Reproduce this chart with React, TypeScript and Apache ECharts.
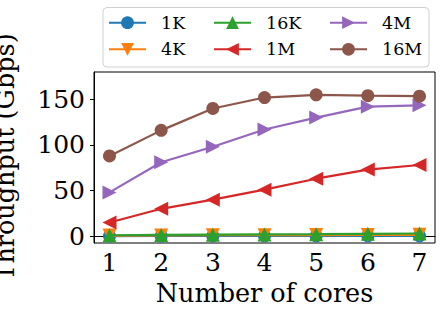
import React, { useEffect, useRef } from "react";
import * as echarts from "echarts";

const cores = [1, 2, 3, 4, 5, 6, 7];
const xTicks = [1, 2, 3, 4, 5, 6, 7];
const yTicks = [0, 50, 100, 150];
const seriesNames = ["1K", "4K", "16K", "1M", "4M", "16M"];
const v1K = [0.1, 0.15, 0.2, 0.2, 0.25, 0.3, 0.3];
const v4K = [0.6, 0.8, 1.0, 1.1, 1.2, 1.4, 1.5];
const v16K = [1.0, 1.3, 1.6, 1.9, 2.2, 2.6, 2.9];
const v1M = [15, 30, 40, 51, 63, 73, 78];
const v4M = [48, 81, 98, 117, 130, 142, 143.5];
const v16M = [88, 116, 140, 152, 155, 154, 153.5];

const colors = ["#1f77b4", "#ff7f0e", "#2ca02c", "#d62728", "#9467bd", "#8c564b"];
const symbols = ["circle", "triangle", "triangle", "triangle", "triangle", "circle"];
const rotates = [0, 180, 0, 90, -90, 0];
const sizes = [13, 14, 14, 14, 14, 13];

const FONT = "DejaVu Serif";

export default function App() {
  const ref = useRef<HTMLDivElement>(null);
  useEffect(() => {
    const chart = echarts.init(ref.current!, null, { renderer: "svg" });
    const values = [v1K, v4K, v16K, v1M, v4M, v16M];
    const series = seriesNames.map((name, i) => ({
      name,
      type: "line",
      data: cores.map((c, j) => [c, values[i][j]]),
      symbol: symbols[i],
      symbolSize: sizes[i],
      symbolRotate: rotates[i],
      showSymbol: true,
      color: colors[i],
      lineStyle: { width: 2.2, color: colors[i] },
      itemStyle: { color: colors[i], opacity: 1 },
      z: 2 + i,
    }));
    const legendCols = [
      ["1K", "4K"],
      ["16K", "1M"],
      ["4M", "16M"],
    ];
    const legendLefts = [108, 213, 329];
    const legends = legendCols.map((d, i) => ({
      data: d,
      orient: "vertical",
      left: legendLefts[i],
      top: 12.7,
      itemWidth: 37,
      itemHeight: 16,
      itemGap: 6.6,
      padding: 0,
      textStyle: {
        fontFamily: FONT,
        fontSize: 17.5,
        color: "#000",
        lineHeight: 20,
        padding: [0, 0, 0, 10],
      },
    }));
    chart.setOption({
      animation: false,
      backgroundColor: "#fff",
      legend: legends,
      grid: {
        left: 94,
        top: 72,
        width: 341,
        height: 171,
        show: true,
        borderColor: "#000",
        borderWidth: 1,
        containLabel: false,
      },
      xAxis: {
        type: "value",
        min: 0.7,
        max: 7.3,
        splitLine: { show: false },
        axisLine: { show: true, lineStyle: { color: "#000", width: 1 } },
        axisTick: { show: true, length: 4, customValues: xTicks, lineStyle: { color: "#000" } },
        axisLabel: {
          customValues: xTicks,
          fontFamily: FONT,
          fontSize: 25,
          color: "#000",
          margin: 7,
        },
        name: "Number of cores",
        nameLocation: "middle",
        nameGap: 35,
        nameTextStyle: { fontFamily: FONT, fontSize: 25.5, color: "#000" },
      },
      yAxis: {
        type: "value",
        min: -7.5,
        max: 180,
        splitLine: { show: false },
        axisLine: { show: true, lineStyle: { color: "#000", width: 1 } },
        axisTick: { show: true, length: 4, customValues: yTicks, lineStyle: { color: "#000" } },
        axisLabel: {
          customValues: yTicks,
          fontFamily: FONT,
          fontSize: 25,
          color: "#000",
          margin: 9,
        },
      },
      graphic: [
        {
          type: "rect",
          shape: { x: 103, y: 7.5, width: 326, height: 59.5, r: 4 },
          style: { fill: "rgba(255,255,255,0.8)", stroke: "#d0d0d0", lineWidth: 1 },
          z: -1,
          silent: true,
        },
        {
          type: "text",
          x: 5,
          y: 157,
          rotation: Math.PI / 2,
          style: {
            text: "Throughput (Gbps)",
            fontFamily: FONT,
            fontSize: 25.5,
            fill: "#000",
            textAlign: "center",
            textVerticalAlign: "middle",
          },
        },
      ],
      series,
    });
    return () => chart.dispose();
  }, []);
  return (
    <div
      ref={ref}
      style={{ position: "absolute", left: 0, top: 0, width: 444, height: 312 }}
    />
  );
}
